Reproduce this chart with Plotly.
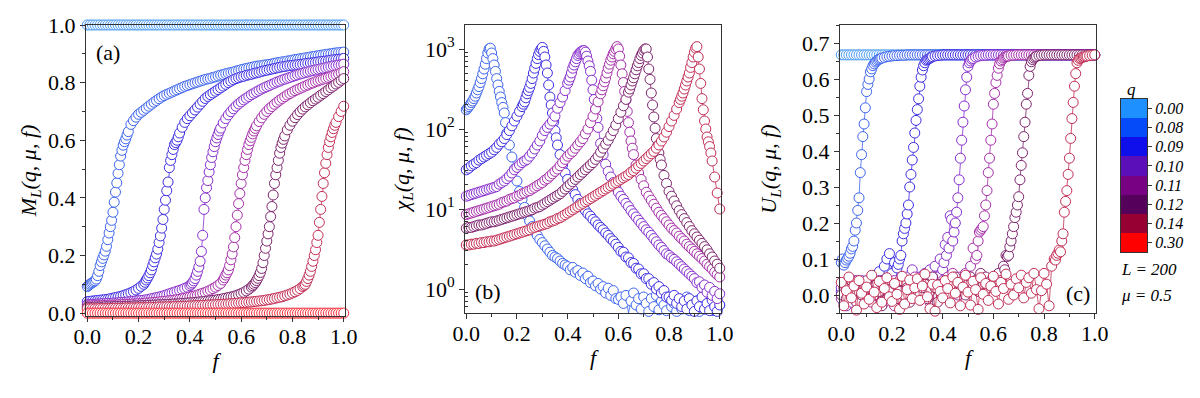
import plotly.graph_objects as go

# ============================ DATA ============================
Q_LABELS = ["0.00", "0.08", "0.09", "0.10", "0.11", "0.12", "0.14", "0.30"]

# sampling grid of the driving parameter f (0.00 ... 1.00, step 0.01)
F_BASE = [round(i * 0.01, 2) for i in range(101)]

# denser samples inside each transition window: first f of the extra samples (step 0.01)
MID_F0_Q008 = 0.005
MID_F0_Q009 = 0.225
MID_F0_Q010 = 0.405
MID_F0_Q011 = 0.535
MID_F0_Q012 = 0.645
MID_F0_Q014 = 0.845

# ---------------- panel (a): M_L(q, mu, f) ----------------
M_Q000 = [1.0, 1.0, 1.0, 1.0, 1.0, 1.0, 1.0, 1.0, 1.0, 1.0,
          1.0, 1.0, 1.0, 1.0, 1.0, 1.0, 1.0, 1.0, 1.0, 1.0,
          1.0, 1.0, 1.0, 1.0, 1.0, 1.0, 1.0, 1.0, 1.0, 1.0,
          1.0, 1.0, 1.0, 1.0, 1.0, 1.0, 1.0, 1.0, 1.0, 1.0,
          1.0, 1.0, 1.0, 1.0, 1.0, 1.0, 1.0, 1.0, 1.0, 1.0,
          1.0, 1.0, 1.0, 1.0, 1.0, 1.0, 1.0, 1.0, 1.0, 1.0,
          1.0, 1.0, 1.0, 1.0, 1.0, 1.0, 1.0, 1.0, 1.0, 1.0,
          1.0, 1.0, 1.0, 1.0, 1.0, 1.0, 1.0, 1.0, 1.0, 1.0,
          1.0, 1.0, 1.0, 1.0, 1.0, 1.0, 1.0, 1.0, 1.0, 1.0,
          1.0, 1.0, 1.0, 1.0, 1.0, 1.0, 1.0, 1.0, 1.0, 1.0,
          1.0]
M_Q008 = [.092, .100, .106, .112, .130, .165, .190, .215, .255, .300,
          .350, .420, .485, .545, .583, .605, .630, .655, .668, .680,
          .690, .697, .704, .711, .718, .725, .732, .738, .744, .750,
          .755, .759, .763, .767, .771, .775, .779, .783, .787, .790,
          .793, .796, .799, .802, .805, .808, .811, .813, .815, .818,
          .820, .823, .826, .828, .831, .833, .835, .837, .840, .842,
          .845, .847, .849, .851, .853, .855, .857, .858, .859, .861,
          .862, .863, .865, .867, .869, .870, .872, .873, .875, .876,
          .878, .880, .881, .883, .884, .886, .887, .889, .890, .892,
          .893, .895, .896, .898, .899, .900, .902, .903, .904, .905,
          .906]
M_Q008_MID = [.096, .103, .109, .118, .145, .178, .202, .232, .278, .322,
              .385, .452, .515, .565, .595, .618]
M_Q009 = [.040, .041, .042, .043, .044, .045, .046, .047, .048, .050,
          .052, .054, .056, .058, .061, .064, .067, .071, .075, .080,
          .086, .093, .100, .115, .130, .150, .178, .205, .245, .295,
          .360, .425, .505, .550, .585, .600, .625, .645, .662, .675,
          .685, .695, .705, .715, .725, .735, .745, .752, .758, .764,
          .770, .776, .782, .788, .794, .800, .805, .810, .814, .817,
          .820, .822, .825, .827, .829, .832, .834, .836, .839, .841,
          .843, .845, .847, .849, .851, .853, .855, .856, .858, .859,
          .860, .861, .862, .863, .864, .866, .867, .868, .869, .870,
          .872, .873, .874, .875, .876, .878, .879, .880, .881, .882,
          .884]
M_Q009_MID = [.107, .122, .140, .165, .192, .222, .268, .325, .392, .455,
              .530, .568, .592, .612]
M_Q010 = [.030, .030, .031, .031, .032, .032, .033, .033, .034, .034,
          .035, .035, .036, .037, .037, .038, .039, .040, .041, .042,
          .043, .044, .045, .046, .048, .050, .052, .054, .056, .058,
          .061, .064, .067, .070, .073, .076, .079, .082, .086, .090,
          .095, .105, .120, .145, .180, .270, .400, .460, .515, .560,
          .595, .620, .642, .660, .675, .688, .699, .709, .718, .726,
          .733, .740, .746, .752, .758, .763, .768, .773, .778, .782,
          .786, .790, .794, .798, .802, .805, .809, .812, .815, .818,
          .821, .824, .827, .830, .832, .835, .837, .840, .842, .844,
          .846, .848, .850, .852, .854, .856, .858, .859, .861, .862,
          .864]
M_Q010_MID = [.100, .112, .132, .160, .214, .360, .435, .490, .540, .578,
              .608, .632]
M_Q011 = [.025, .025, .025, .026, .026, .026, .027, .027, .027, .028,
          .028, .028, .029, .029, .030, .030, .031, .031, .032, .032,
          .033, .033, .034, .035, .035, .036, .037, .038, .039, .040,
          .041, .042, .043, .044, .045, .047, .048, .050, .052, .054,
          .056, .058, .060, .063, .066, .069, .072, .076, .080, .085,
          .090, .096, .103, .115, .132, .150, .185, .230, .300, .380,
          .450, .505, .550, .585, .610, .632, .650, .665, .678, .690,
          .700, .709, .717, .725, .732, .739, .745, .751, .757, .762,
          .767, .772, .776, .780, .784, .788, .792, .796, .799, .803,
          .806, .809, .812, .815, .818, .821, .824, .827, .830, .834,
          .838]
M_Q011_MID = [.123, .140, .165, .205, .262, .340, .415, .480, .530, .568,
              .598, .622, .641]
M_Q012 = [.020, .020, .020, .021, .021, .021, .021, .022, .022, .022,
          .022, .023, .023, .023, .023, .024, .024, .024, .025, .025,
          .025, .026, .026, .026, .027, .027, .028, .028, .029, .029,
          .030, .030, .031, .031, .032, .032, .033, .034, .034, .035,
          .036, .036, .037, .038, .039, .040, .041, .042, .043, .044,
          .045, .047, .048, .050, .052, .054, .056, .058, .061, .064,
          .068, .072, .077, .083, .090, .100, .113, .130, .155, .200,
          .250, .300, .370, .450, .505, .555, .590, .615, .636, .652,
          .666, .678, .689, .699, .708, .716, .723, .730, .737, .743,
          .749, .756, .762, .769, .775, .782, .788, .795, .801, .808,
          .814]
M_Q012_MID = [.095, .106, .121, .141, .175, .225, .275, .335, .410, .480,
              .530, .575, .603]
M_Q014 = [.015, .015, .015, .015, .015, .016, .016, .016, .016, .016,
          .017, .017, .017, .017, .017, .018, .018, .018, .018, .018,
          .019, .019, .019, .019, .020, .020, .020, .020, .021, .021,
          .021, .022, .022, .022, .023, .023, .023, .024, .024, .024,
          .025, .025, .026, .026, .026, .027, .027, .028, .028, .029,
          .029, .030, .030, .031, .031, .032, .033, .033, .034, .035,
          .036, .036, .037, .038, .039, .040, .041, .042, .043, .044,
          .046, .047, .049, .051, .053, .055, .057, .060, .063, .066,
          .070, .074, .079, .085, .092, .100, .120, .145, .180, .220,
          .270, .360, .450, .520, .575, .612, .640, .662, .682, .700,
          .718]
M_Q014_MID = [.096, .110, .132, .162, .200, .245, .315, .405, .487, .550,
              .595, .627, .652]
M_Q030 = [0.0, 0.0, 0.0, 0.0, 0.0, 0.0, 0.0, 0.0, 0.0, 0.0,
          0.0, 0.0, 0.0, 0.0, 0.0, 0.0, 0.0, 0.0, 0.0, 0.0,
          0.0, 0.0, 0.0, 0.0, 0.0, 0.0, 0.0, 0.0, 0.0, 0.0,
          0.0, 0.0, 0.0, 0.0, 0.0, 0.0, 0.0, 0.0, 0.0, 0.0,
          0.0, 0.0, 0.0, 0.0, 0.0, 0.0, 0.0, 0.0, 0.0, 0.0,
          0.0, 0.0, 0.0, 0.0, 0.0, 0.0, 0.0, 0.0, 0.0, 0.0,
          0.0, 0.0, 0.0, 0.0, 0.0, 0.0, 0.0, 0.0, 0.0, 0.0,
          0.0, 0.0, 0.0, 0.0, 0.0, 0.0, 0.0, 0.0, 0.0, 0.0,
          0.0, 0.0, 0.0, 0.0, 0.0, 0.0, 0.0, 0.0, 0.0, 0.0,
          0.0, 0.0, 0.0, 0.0, 0.0, 0.0, 0.0, 0.0, 0.0, 0.0,
          0.0]

# ---------------- panel (b): log10 of chi_L(q, mu, f) ----------------
LOGCHI_Q008 = [2.24, 2.28, 2.33, 2.38, 2.45, 2.53, 2.63, 2.75, 2.88, 3.00,
               2.95, 2.80, 2.63, 2.47, 2.33, 2.20, 1.95, 1.80, 1.65, 1.50,
               1.35, 1.22, 1.12, 1.02, 0.92, 0.85, 0.78, 0.72, 0.67, 0.62,
               0.58, 0.54, 0.50, 0.46, 0.42, 0.40, 0.38, 0.35, 0.32, 0.30,
               0.28, 0.24, 0.27, 0.21, 0.23, 0.17, 0.20, 0.13, 0.16, 0.08,
               0.10, 0.04, 0.07, 0.00, 0.03, -0.05, 0.01, -0.08, -0.02, -0.12,
               -0.13, -0.10, -0.18, -0.08, -0.30, -0.15, -0.05, -0.20, -0.12, -0.25,
               -0.10, -0.18, -0.28, -0.12, -0.22, -0.08, -0.26, -0.15, -0.20, -0.27,
               -0.12, -0.22, -0.18, -0.28, -0.15, -0.25, -0.20, -0.10, -0.27, -0.18,
               -0.24, -0.15, -0.28, -0.20, -0.25, -0.12, -0.22, -0.27, -0.18, -0.25,
               -0.20]
LOGCHI_Q008_MID = [2.26, 2.30, 2.35, 2.41, 2.49, 2.58, 2.69, 2.81, 2.95, 3.01,
                   2.88, 2.72, 2.55, 2.40, 2.27, 2.08]
LOGCHI_Q009 = [1.49, 1.51, 1.54, 1.56, 1.58, 1.61, 1.63, 1.65, 1.67, 1.69,
               1.71, 1.74, 1.77, 1.81, 1.84, 1.88, 1.93, 1.98, 2.04, 2.10,
               2.16, 2.22, 2.28, 2.34, 2.44, 2.52, 2.63, 2.76, 2.88, 2.97,
               3.02, 2.90, 2.70, 2.40, 2.20, 1.98, 1.80, 1.68, 1.55, 1.45,
               1.37, 1.30, 1.24, 1.18, 1.12, 1.07, 1.02, 0.98, 0.94, 0.91,
               0.87, 0.84, 0.80, 0.77, 0.74, 0.70, 0.67, 0.63, 0.60, 0.56,
               0.52, 0.47, 0.46, 0.40, 0.39, 0.33, 0.32, 0.26, 0.25, 0.19,
               0.19, 0.13, 0.13, 0.06, 0.08, 0.00, 0.03, -0.05, -0.02, -0.10,
               -0.10, -0.14, -0.08, -0.18, -0.12, -0.22, -0.15, -0.25, -0.12, -0.20,
               -0.28, -0.15, -0.22, -0.10, -0.25, -0.18, -0.27, -0.14, -0.22, -0.28,
               -0.20]
LOGCHI_Q009_MID = [2.31, 2.39, 2.48, 2.57, 2.70, 2.82, 2.93, 3.00, 2.97, 2.80,
                   2.55, 2.30, 2.09, 1.89]
LOGCHI_Q010 = [1.16, 1.17, 1.18, 1.19, 1.20, 1.21, 1.22, 1.23, 1.24, 1.25,
               1.26, 1.27, 1.28, 1.31, 1.33, 1.35, 1.38, 1.41, 1.45, 1.49,
               1.52, 1.55, 1.58, 1.60, 1.62, 1.66, 1.70, 1.75, 1.80, 1.85,
               1.92, 1.98, 2.02, 2.06, 2.10, 2.16, 2.26, 2.33, 2.40, 2.48,
               2.57, 2.65, 2.76, 2.84, 2.92, 2.96, 2.98, 2.96, 2.85, 2.72,
               2.49, 2.25, 2.02, 1.82, 1.68, 1.56, 1.47, 1.40, 1.33, 1.27,
               1.21, 1.16, 1.12, 1.07, 1.03, 0.98, 0.94, 0.90, 0.86, 0.82,
               0.78, 0.74, 0.71, 0.67, 0.63, 0.59, 0.55, 0.52, 0.48, 0.44,
               0.42, 0.39, 0.37, 0.34, 0.31, 0.28, 0.25, 0.22, 0.19, 0.16,
               0.13, 0.08, 0.09, 0.02, 0.05, -0.04, 0.02, -0.08, -0.03, -0.12,
               -0.06]
LOGCHI_Q010_MID = [2.61, 2.70, 2.80, 2.88, 2.94, 2.97, 2.98, 2.91, 2.79, 2.61,
                   2.37, 2.13]
LOGCHI_Q011 = [0.93, 0.94, 0.95, 0.96, 0.97, 0.98, 0.99, 1.00, 1.01, 1.02,
               1.03, 1.04, 1.05, 1.06, 1.08, 1.09, 1.10, 1.12, 1.13, 1.14,
               1.16, 1.17, 1.19, 1.20, 1.22, 1.23, 1.25, 1.27, 1.29, 1.31,
               1.33, 1.36, 1.38, 1.41, 1.44, 1.47, 1.50, 1.54, 1.58, 1.62,
               1.66, 1.69, 1.72, 1.76, 1.80, 1.84, 1.88, 1.94, 2.00, 2.08,
               2.16, 2.25, 2.34, 2.44, 2.54, 2.64, 2.76, 2.86, 2.94, 3.00,
               3.00, 2.80, 2.58, 2.36, 2.08, 1.85, 1.68, 1.55, 1.45, 1.37,
               1.29, 1.21, 1.16, 1.11, 1.06, 1.01, 0.96, 0.92, 0.88, 0.84,
               0.80, 0.76, 0.73, 0.70, 0.66, 0.63, 0.60, 0.56, 0.53, 0.50,
               0.47, 0.44, 0.41, 0.38, 0.35, 0.31, 0.28, 0.25, 0.21, 0.18,
               0.15]
LOGCHI_Q011_MID = [2.49, 2.59, 2.70, 2.81, 2.90, 2.97, 3.03, 2.91, 2.69, 2.47,
                   2.22, 1.96, 1.76]
LOGCHI_Q012 = [0.76, 0.77, 0.77, 0.78, 0.79, 0.80, 0.80, 0.81, 0.82, 0.83,
               0.84, 0.84, 0.85, 0.86, 0.87, 0.88, 0.89, 0.90, 0.91, 0.92,
               0.93, 0.94, 0.95, 0.96, 0.97, 0.98, 0.99, 1.01, 1.02, 1.03,
               1.05, 1.07, 1.09, 1.11, 1.13, 1.15, 1.17, 1.19, 1.22, 1.25,
               1.28, 1.31, 1.34, 1.37, 1.40, 1.43, 1.46, 1.49, 1.52, 1.55,
               1.58, 1.62, 1.66, 1.71, 1.76, 1.81, 1.86, 1.92, 1.98, 2.05,
               2.13, 2.21, 2.29, 2.37, 2.46, 2.55, 2.64, 2.74, 2.83, 2.92,
               2.98, 3.00, 2.75, 2.45, 2.15, 1.88, 1.70, 1.55, 1.42, 1.32,
               1.22, 1.16, 1.10, 1.04, 0.98, 0.93, 0.88, 0.83, 0.78, 0.73,
               0.69, 0.65, 0.61, 0.57, 0.53, 0.49, 0.44, 0.40, 0.35, 0.31,
               0.26]
LOGCHI_Q012_MID = [2.50, 2.60, 2.69, 2.79, 2.88, 2.95, 3.00, 2.90, 2.62, 2.30,
                   2.01, 1.79, 1.62]
LOGCHI_Q014 = [0.55, 0.55, 0.56, 0.56, 0.57, 0.57, 0.58, 0.58, 0.59, 0.59,
               0.60, 0.60, 0.61, 0.62, 0.63, 0.64, 0.65, 0.66, 0.67, 0.68,
               0.69, 0.70, 0.71, 0.72, 0.73, 0.74, 0.76, 0.77, 0.78, 0.79,
               0.80, 0.81, 0.82, 0.84, 0.85, 0.86, 0.88, 0.89, 0.91, 0.93,
               0.95, 0.97, 0.99, 1.01, 1.03, 1.05, 1.07, 1.09, 1.11, 1.13,
               1.15, 1.17, 1.19, 1.21, 1.23, 1.25, 1.27, 1.29, 1.31, 1.33,
               1.35, 1.37, 1.39, 1.41, 1.43, 1.46, 1.48, 1.51, 1.54, 1.57,
               1.60, 1.63, 1.66, 1.69, 1.72, 1.76, 1.80, 1.85, 1.90, 1.96,
               2.03, 2.10, 2.17, 2.25, 2.33, 2.41, 2.50, 2.60, 2.70, 2.83,
               2.96, 3.03, 2.75, 2.38, 2.10, 1.90, 1.78, 1.60, 1.40, 1.20,
               1.00]
LOGCHI_Q014_MID = [2.37, 2.45, 2.55, 2.65, 2.77, 2.90, 3.01, 2.90, 2.57, 2.24,
                   2.00, 1.84, 1.70]

# ---------------- panel (c): U_L(q, mu, f) ----------------
U_Q000 = [0.667, 0.667, 0.667, 0.667, 0.667, 0.667, 0.667, 0.667, 0.667, 0.667,
          0.667, 0.667, 0.667, 0.667, 0.667, 0.667, 0.667, 0.667, 0.667, 0.667,
          0.667, 0.667, 0.667, 0.667, 0.667, 0.667, 0.667, 0.667, 0.667, 0.667,
          0.667, 0.667, 0.667, 0.667, 0.667, 0.667, 0.667, 0.667, 0.667, 0.667,
          0.667, 0.667, 0.667, 0.667, 0.667, 0.667, 0.667, 0.667, 0.667, 0.667,
          0.667, 0.667, 0.667, 0.667, 0.667, 0.667, 0.667, 0.667, 0.667, 0.667,
          0.667, 0.667, 0.667, 0.667, 0.667, 0.667, 0.667, 0.667, 0.667, 0.667,
          0.667, 0.667, 0.667, 0.667, 0.667, 0.667, 0.667, 0.667, 0.667, 0.667,
          0.667, 0.667, 0.667, 0.667, 0.667, 0.667, 0.667, 0.667, 0.667, 0.667,
          0.667, 0.667, 0.667, 0.667, 0.667, 0.667, 0.667, 0.667, 0.667, 0.667,
          0.667]
U_Q008 = [0.090, 0.083, 0.097, 0.108, 0.128, 0.150, 0.200, 0.270, 0.390, 0.475,
          0.565, 0.600, 0.628, 0.642, 0.650, 0.655, 0.658, 0.660, 0.662, 0.663,
          0.664, 0.665, 0.665, 0.666, 0.666, 0.666, 0.667, 0.667, 0.667, 0.667,
          0.667, 0.667, 0.667, 0.667, 0.667, 0.667, 0.667, 0.667, 0.667, 0.667,
          0.667, 0.667, 0.667, 0.667, 0.667, 0.667, 0.667, 0.667, 0.667, 0.667,
          0.667, 0.667, 0.667, 0.667, 0.667, 0.667, 0.667, 0.667, 0.667, 0.667,
          0.667, 0.667, 0.667, 0.667, 0.667, 0.667, 0.667, 0.667, 0.667, 0.667,
          0.667, 0.667, 0.667, 0.667, 0.667, 0.667, 0.667, 0.667, 0.667, 0.667,
          0.667, 0.667, 0.667, 0.667, 0.667, 0.667, 0.667, 0.667, 0.667, 0.667,
          0.667, 0.667, 0.667, 0.667, 0.667, 0.667, 0.667, 0.667, 0.667, 0.667,
          0.667]
U_Q008_MID = [0.100, 0.090, 0.102, 0.116, 0.135, 0.180, 0.235, 0.340, 0.440, 0.520,
              0.585, 0.620, 0.637, 0.647, 0.653, 0.657]
U_Q009 = [0.010, -0.020, 0.030, 0.000, 0.020, -0.010, 0.040, 0.010, 0.030, -0.020,
          0.020, 0.040, 0.010, 0.030, 0.050, 0.065, 0.040, 0.080, 0.100, 0.115,
          0.060, 0.090, 0.075, 0.100, 0.150, 0.185, 0.225, 0.300, 0.375, 0.450,
          0.515, 0.580, 0.625, 0.645, 0.654, 0.658, 0.662, 0.664, 0.665, 0.666,
          0.667, 0.667, 0.667, 0.667, 0.667, 0.667, 0.667, 0.667, 0.667, 0.667,
          0.667, 0.667, 0.667, 0.667, 0.667, 0.667, 0.667, 0.667, 0.667, 0.667,
          0.667, 0.667, 0.667, 0.667, 0.667, 0.667, 0.667, 0.667, 0.667, 0.667,
          0.667, 0.667, 0.667, 0.667, 0.667, 0.667, 0.667, 0.667, 0.667, 0.667,
          0.667, 0.667, 0.667, 0.667, 0.667, 0.667, 0.667, 0.667, 0.667, 0.667,
          0.667, 0.667, 0.667, 0.667, 0.667, 0.667, 0.667, 0.667, 0.667, 0.667,
          0.667]
U_Q009_MID = [0.085, 0.110, 0.170, 0.200, 0.250, 0.335, 0.410, 0.485, 0.545, 0.605,
              0.637, 0.652, 0.656, 0.660]
U_Q010 = [0.020, 0.000, -0.030, 0.010, 0.030, -0.010, 0.020, 0.000, 0.040, -0.020,
          0.010, 0.030, -0.010, 0.020, 0.000, 0.040, 0.010, -0.020, 0.030, 0.010,
          0.000, 0.040, 0.020, -0.010, 0.030, 0.010, 0.050, 0.020, 0.070, 0.030,
          0.010, 0.050, 0.020, 0.060, 0.040, 0.070, 0.030, 0.080, 0.050, 0.100,
          0.070, 0.140, 0.160, 0.220, 0.150, 0.200, 0.270, 0.380, 0.480, 0.570,
          0.635, 0.650, 0.657, 0.661, 0.663, 0.665, 0.666, 0.666, 0.667, 0.667,
          0.667, 0.667, 0.667, 0.667, 0.667, 0.667, 0.667, 0.667, 0.667, 0.667,
          0.667, 0.667, 0.667, 0.667, 0.667, 0.667, 0.667, 0.667, 0.667, 0.667,
          0.667, 0.667, 0.667, 0.667, 0.667, 0.667, 0.667, 0.667, 0.667, 0.667,
          0.667, 0.667, 0.667, 0.667, 0.667, 0.667, 0.667, 0.667, 0.667, 0.667,
          0.667]
U_Q010_MID = [0.090, 0.110, 0.130, 0.210, 0.175, 0.230, 0.320, 0.430, 0.525, 0.605,
              0.645, 0.655]
U_Q011 = [-0.010, 0.020, 0.000, 0.030, -0.020, 0.010, 0.040, 0.000, 0.020, -0.010,
          0.030, 0.010, -0.020, 0.020, 0.000, 0.030, 0.010, 0.040, -0.010, 0.020,
          0.010, -0.030, 0.020, 0.040, 0.000, 0.030, -0.010, 0.020, 0.010, 0.050,
          0.020, 0.000, 0.040, 0.010, 0.030, -0.020, 0.050, 0.020, 0.000, 0.030,
          0.040, 0.010, 0.050, 0.020, 0.060, 0.030, 0.000, 0.050, 0.030, 0.060,
          0.040, 0.080, 0.130, 0.100, 0.150, 0.180, 0.190, 0.250, 0.340, 0.430,
          0.530, 0.590, 0.630, 0.650, 0.658, 0.662, 0.664, 0.666, 0.666, 0.667,
          0.667, 0.667, 0.667, 0.667, 0.667, 0.667, 0.667, 0.667, 0.667, 0.667,
          0.667, 0.667, 0.667, 0.667, 0.667, 0.667, 0.667, 0.667, 0.667, 0.667,
          0.667, 0.667, 0.667, 0.667, 0.667, 0.667, 0.667, 0.667, 0.667, 0.667,
          0.667]
U_Q011_MID = [0.110, 0.175, 0.185, 0.220, 0.290, 0.380, 0.475, 0.560, 0.610, 0.642,
              0.654, 0.660, 0.663]
U_Q012 = [0.000, 0.030, -0.010, 0.020, 0.040, 0.010, -0.020, 0.030, 0.000, 0.020,
          0.040, -0.010, 0.020, 0.000, 0.030, 0.010, -0.030, 0.020, 0.040, 0.000,
          0.020, 0.030, -0.010, 0.010, 0.040, 0.000, 0.020, -0.020, 0.030, 0.010,
          0.040, 0.000, 0.020, 0.030, -0.010, 0.010, 0.050, 0.020, -0.020, 0.030,
          0.010, 0.040, 0.020, 0.000, 0.030, 0.050, 0.010, 0.020, 0.040, 0.000,
          0.030, 0.050, 0.020, 0.040, 0.010, 0.060, 0.030, 0.050, 0.020, 0.040,
          0.050, 0.030, 0.060, 0.040, 0.080, 0.110, 0.110, 0.150, 0.190, 0.230,
          0.273, 0.360, 0.440, 0.530, 0.610, 0.648, 0.658, 0.663, 0.665, 0.666,
          0.667, 0.667, 0.667, 0.667, 0.667, 0.667, 0.667, 0.667, 0.667, 0.667,
          0.667, 0.667, 0.667, 0.667, 0.667, 0.667, 0.667, 0.667, 0.667, 0.667,
          0.667]
U_Q012_MID = [0.070, 0.107, 0.134, 0.170, 0.215, 0.250, 0.320, 0.395, 0.480, 0.560,
              0.635, 0.654, 0.661]
U_Q014 = [0.035, -0.030, 0.012, 0.050, -0.008, 0.025, -0.042, 0.040, 0.005, -0.025,
          0.022, -0.012, 0.055, 0.008, -0.035, 0.038, -0.020, 0.018, 0.048, -0.005,
          -0.018, 0.032, 0.002, -0.040, 0.052, -0.025, 0.015, 0.042, -0.010, 0.020,
          0.045, -0.015, 0.025, 0.058, -0.005, -0.038, 0.030, -0.045, 0.028, 0.010,
          -0.008, 0.040, 0.018, -0.022, 0.050, 0.005, 0.035, -0.030, 0.022, 0.055,
          0.008, -0.028, 0.038, 0.015, -0.040, 0.048, 0.002, 0.032, -0.015, 0.025,
          0.052, 0.010, -0.025, 0.035, 0.018, 0.058, -0.012, 0.030, 0.000, 0.045,
          0.020, 0.055, -0.008, 0.035, 0.048, 0.005, 0.060, 0.015, -0.038, 0.012,
          0.060, 0.030, -0.030, 0.080, 0.100, 0.110, 0.125, 0.150, 0.230, 0.290,
          0.380, 0.490, 0.580, 0.645, 0.657, 0.660, 0.662, 0.664, 0.665, 0.666,
          0.667]
U_Q014_MID = [0.097, 0.116, 0.120, 0.170, 0.260, 0.335, 0.435, 0.535, 0.615, 0.652,
              0.658, 0.661, 0.663]

# ============================ STYLE ============================
SERIES_COLORS = ["rgb(75,155,245)", "rgb(60,100,238)", "rgb(60,45,225)", "rgb(135,45,205)",
                 "rgb(165,45,170)", "rgb(125,35,110)", "rgb(195,45,85)", "rgb(248,45,55)"]
BAND_COLORS = ["rgb(30,144,255)", "rgb(5,75,250)", "rgb(15,15,235)", "rgb(90,15,185)",
               "rgb(120,0,130)", "rgb(85,0,90)", "rgb(150,0,50)", "rgb(255,0,0)"]
FONT = "Times New Roman"   # resolved to Liberation Serif (metric-compatible) by fontconfig
W, H = 1200, 398


def series(base, mid=None, f0=None):
    pts = list(zip(F_BASE, base))
    if mid:
        pts += [(round(f0 + 0.01 * k, 3), v) for k, v in enumerate(mid)]
    pts.sort(key=lambda p: p[0])
    return [p[0] for p in pts], [p[1] for p in pts]


fig = go.Figure()


def add(xs, ys, ci, xa, ya):
    c = SERIES_COLORS[ci]
    fig.add_trace(go.Scatter(
        x=xs, y=ys, mode="lines+markers", xaxis=xa, yaxis=ya,
        name="q = " + Q_LABELS[ci], showlegend=False, cliponaxis=False,
        line=dict(color=c, width=0.8),
        marker=dict(symbol="circle", size=10, color="white", line=dict(color=c, width=1.0)),
    ))


# panel (a)
A_SETS = [(M_Q000, None, None), (M_Q008, M_Q008_MID, MID_F0_Q008), (M_Q009, M_Q009_MID, MID_F0_Q009),
          (M_Q010, M_Q010_MID, MID_F0_Q010), (M_Q011, M_Q011_MID, MID_F0_Q011),
          (M_Q012, M_Q012_MID, MID_F0_Q012), (M_Q014, M_Q014_MID, MID_F0_Q014), (M_Q030, None, None)]
for i, (b, m, f0) in enumerate(A_SETS):
    xs, ys = series(b, m, f0)
    add(xs, ys, i, "x", "y")

# panel (b)
B_SETS = [(1, LOGCHI_Q008, LOGCHI_Q008_MID, MID_F0_Q008), (2, LOGCHI_Q009, LOGCHI_Q009_MID, MID_F0_Q009),
          (3, LOGCHI_Q010, LOGCHI_Q010_MID, MID_F0_Q010), (4, LOGCHI_Q011, LOGCHI_Q011_MID, MID_F0_Q011),
          (5, LOGCHI_Q012, LOGCHI_Q012_MID, MID_F0_Q012), (6, LOGCHI_Q014, LOGCHI_Q014_MID, MID_F0_Q014)]
for i, b, m, f0 in B_SETS:
    xs, ys = series(b, m, f0)
    add(xs, [10 ** v for v in ys], i, "x2", "y2")

# panel (c)
C_SETS = [(0, U_Q000, None, None), (1, U_Q008, U_Q008_MID, MID_F0_Q008), (2, U_Q009, U_Q009_MID, MID_F0_Q009),
          (3, U_Q010, U_Q010_MID, MID_F0_Q010), (4, U_Q011, U_Q011_MID, MID_F0_Q011),
          (5, U_Q012, U_Q012_MID, MID_F0_Q012), (6, U_Q014, U_Q014_MID, MID_F0_Q014)]
for i, b, m, f0 in C_SETS:
    xs, ys = series(b, m, f0)
    add(xs, ys, i, "x3", "y3")

# discrete q colour key: one heatmap cell per q (bottom = last label)
n = len(BAND_COLORS)
scale = []
for k, col in enumerate(reversed(BAND_COLORS)):
    scale.append([k / n, col])
    scale.append([(k + 1) / n, col])
fig.add_trace(go.Heatmap(
    z=[[k] for k in range(n)], x=[0], y=list(range(n)), xaxis="x7", yaxis="y7",
    colorscale=scale, zmin=-0.5, zmax=n - 0.5, showscale=False, hoverinfo="skip",
))


def dom_x(a, b):
    return [a / W, b / W]


def dom_y(top, bottom):
    return [1 - bottom / H, 1 - top / H]


tickfont = dict(family=FONT, size=22, color="black")
titlefont = dict(family=FONT, size=22, color="black")
common_x = dict(range=[-0.005, 1.005], tick0=0, dtick=0.2, tickformat=".1f", ticks="outside", ticklen=5,
                tickwidth=1, tickcolor="#333", showline=True, linecolor="#333", linewidth=1, mirror=True,
                showgrid=False, zeroline=False, tickfont=tickfont, automargin=False, ticklabelstandoff=-4,
                minor=dict(dtick=0.1, ticks="outside", ticklen=3, tickcolor="#333", showgrid=False),
                title=dict(text="<i>f</i>", font=titlefont, standoff=4))
ax_lin = dict(ticks="outside", ticklen=5, tickwidth=1, tickcolor="#333", showline=True, linecolor="#333",
              linewidth=1, mirror=True, showgrid=False, zeroline=False, tickfont=tickfont, automargin=False)

layout = dict(
    template="none",
    width=W, height=H, margin=dict(l=0, r=0, t=0, b=0, pad=0, autoexpand=False), autosize=False,
    paper_bgcolor="white", plot_bgcolor="white", showlegend=False,
    font=dict(family=FONT, size=22, color="black"),
    xaxis=dict(domain=dom_x(86, 345), anchor="y", **common_x),
    xaxis2=dict(domain=dom_x(465, 721), anchor="y2", **common_x),
    xaxis3=dict(domain=dom_x(840, 1096), anchor="y3", **common_x),
    yaxis=dict(domain=dom_y(25, 316), anchor="x", range=[-0.01, 1.0], tick0=0, dtick=0.2, tickformat=".1f",
               minor=dict(dtick=0.1, ticks="outside", ticklen=3, tickcolor="#333", showgrid=False),
               title=dict(text="<i>M</i><sub><i>L</i></sub><i>(q, μ, f)</i>", font=titlefont, standoff=5),
               **ax_lin),
    yaxis2=dict(domain=dom_y(25, 313), anchor="x2", type="log", range=[-0.3, 3.3],
                tickvals=[1, 10, 100, 1000],
                ticktext=["10<sup>0</sup>", "10<sup>1</sup>", "10<sup>2</sup>", "10<sup>3</sup>"],
                minor=dict(tickvals=[0.6, 0.7, 0.8, 0.9, 2, 3, 4, 5, 6, 7, 8, 9, 20, 30, 40, 50, 60, 70, 80, 90,
                                     200, 300, 400, 500, 600, 700, 800, 900],
                           ticks="inside", ticklen=3, tickcolor="#333", showgrid=False),
                title=dict(text="<i>χ</i><sub><i>L</i></sub><i>(q, μ, f)</i>", font=titlefont, standoff=9),
                **ax_lin),
    yaxis3=dict(domain=dom_y(25, 313), anchor="x3", range=[-0.05, 0.75], tick0=0, dtick=0.1, tickformat=".1f",
                minor=dict(dtick=0.05, ticks="outside", ticklen=3, tickcolor="#333", showgrid=False),
                title=dict(text="<i>U</i><sub><i>L</i></sub><i>(q, μ, f)</i>", font=titlefont, standoff=19),
                **ax_lin),
    # colour key axes
    xaxis7=dict(domain=dom_x(1121, 1147), anchor="y7", range=[-0.5, 0.5], showticklabels=False, ticks="",
                showline=True, mirror=True, linecolor="#333", linewidth=1, showgrid=False, zeroline=False,
                automargin=False),
    yaxis7=dict(domain=dom_y(99, 252), anchor="x7", side="right", range=[-0.5, n - 0.5],
                tickvals=list(range(n)), ticktext=["<i>%s</i>" % q for q in reversed(Q_LABELS)],
                ticks="outside", ticklen=4, tickcolor="#333", showline=True, mirror=True, linecolor="#333",
                linewidth=1, showgrid=False, zeroline=False, automargin=False,
                tickfont=dict(family=FONT, size=16, color="black")),
)

# inward ticks on the top and right frame edges (mirror axes, no labels)
mir = dict(showticklabels=False, showline=False, showgrid=False, zeroline=False, ticks="inside",
           ticklen=5, tickwidth=1, tickcolor="#333", automargin=False)
layout["xaxis4"] = dict(overlaying="x", side="top", anchor="y", range=[-0.005, 1.005], tick0=0, dtick=0.2,
                        minor=dict(dtick=0.1, ticks="inside", ticklen=3, tickcolor="#333"), **mir)
layout["xaxis5"] = dict(overlaying="x2", side="top", anchor="y2", range=[-0.005, 1.005], tick0=0, dtick=0.2,
                        minor=dict(dtick=0.1, ticks="inside", ticklen=3, tickcolor="#333"), **mir)
layout["xaxis6"] = dict(overlaying="x3", side="top", anchor="y3", range=[-0.005, 1.005], tick0=0, dtick=0.2,
                        minor=dict(dtick=0.1, ticks="inside", ticklen=3, tickcolor="#333"), **mir)
layout["yaxis4"] = dict(overlaying="y", side="right", anchor="x", range=[-0.01, 1.0], tick0=0, dtick=0.2,
                        minor=dict(dtick=0.1, ticks="inside", ticklen=3, tickcolor="#333"), **mir)
layout["yaxis5"] = dict(overlaying="y2", side="right", anchor="x2", type="log", range=[-0.3, 3.3],
                        tickvals=[1, 10, 100, 1000], **mir)
layout["yaxis6"] = dict(overlaying="y3", side="right", anchor="x3", range=[-0.05, 0.75], tick0=0, dtick=0.1,
                        minor=dict(dtick=0.05, ticks="inside", ticklen=3, tickcolor="#333"), **mir)

fig.update_layout(**layout)

ann_font = dict(family=FONT, size=22, color="black")
small_font = dict(family=FONT, size=17, color="black")
for txt, xp, yp in [("(a)", 108, 53), ("(b)", 488, 291), ("(c)", 1078, 293)]:
    fig.add_annotation(text=txt, x=xp / W, y=1 - yp / H, xref="paper", yref="paper",
                       showarrow=False, font=ann_font, xanchor="center", yanchor="middle")
fig.add_annotation(text="<i>q</i>", x=1131 / W, y=1 - 89 / H, xref="paper", yref="paper",
                   showarrow=False, font=small_font, xanchor="center", yanchor="middle")
for txt, yp in [("<i>L = 200</i>", 269), ("<i>μ = 0.5</i>", 295)]:
    fig.add_annotation(text=txt, x=1119 / W, y=1 - yp / H, xref="paper", yref="paper",
                       showarrow=False, font=small_font, xanchor="left", yanchor="middle")

fig.write_html("out.html", config={"displayModeBar": False},
               post_script="document.body.style.margin='0px';")
